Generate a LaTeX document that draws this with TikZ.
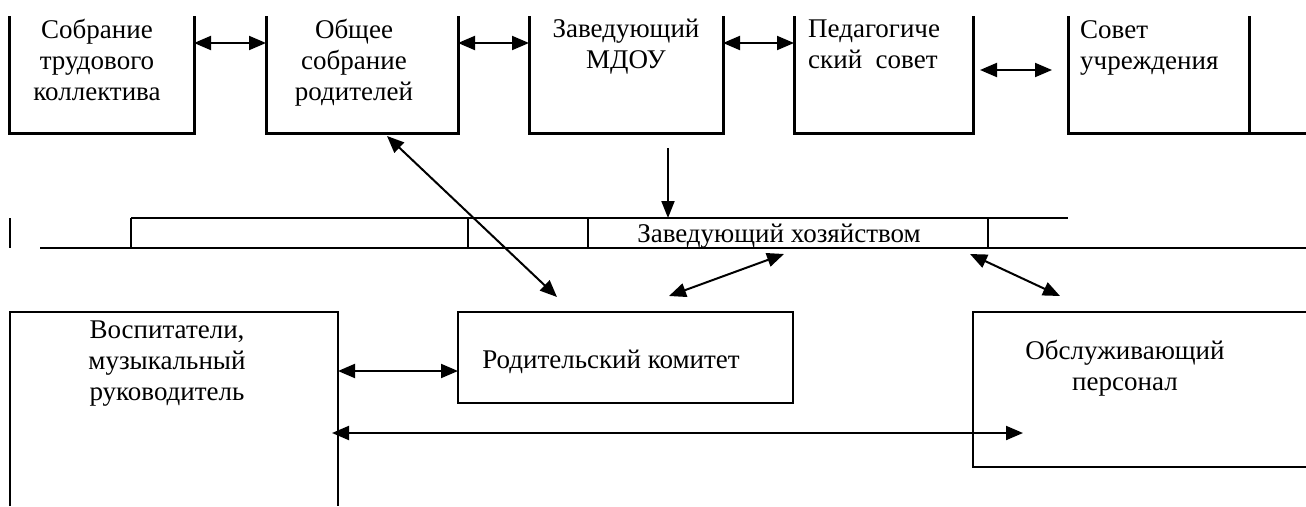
\documentclass[tikz,border=0pt]{standalone}
\usepackage{fontspec}
\setmainfont{Liberation Serif}
\usetikzlibrary{arrows.meta, positioning}

\tikzset{
  box/.style={inner sep=0pt, outer sep=0pt, minimum height=117pt},
  cell/.style={inner sep=0pt, outer sep=0pt, minimum height=30pt},
  txt/.style={inner sep=0pt, font=\fontsize{27}{31}\selectfont},
  boxline/.style={line width=3pt},
  bandline/.style={line width=2.4pt},
  lowline/.style={line width=2.2pt},
  link/.style={line width=2pt, {Triangle[length=17pt,width=14pt]}-{Triangle[length=17pt,width=14pt]}},
  downarr/.style={line width=2pt, -{Triangle[length=17pt,width=13pt]}},
}

\begin{document}
\begin{tikzpicture}[x=1pt,y=-1pt]
    \useasboundingbox (0,0) rectangle (1306,506);

    % Top row
    \node[box, minimum width=185pt] (sobr) at (101.5,74.5) {};
    \node[box, minimum width=192pt] (obsh) at (362,74.5) {};
    \node[box, minimum width=194pt] (zav) at (626,74.5) {};
    \node[box, minimum width=179pt] (ped) at (883.5,74.5) {};
    \node[box, minimum width=181pt] (sov) at (1158.5,74.5) {};
    \foreach \b in {sobr,obsh,zav,ped,sov}
        \draw[boxline] (\b.north west) |- (\b.south east) -- (\b.north east);
    \draw[boxline] (sov.south east) -- (1306,133);

    \node[txt, align=center, anchor=north] (sobrt) at (97,19) {Собрание\\трудового\\коллектива};
    \node[txt, align=center, anchor=north] (obsht) at (354,19) {Общее\\собрание\\родителей};
    \node[txt, align=center, anchor=north] (zavt) at (626,19) {Заведующий\\МДОУ};
    \node[txt, align=left, anchor=north west] (pedt) at (808,20) {Педагогиче\\ский\ \ совет};
    \node[txt, align=left, anchor=north west] (sovt) at (1080,20) {Совет\\учреждения};

    \draw[link] ([yshift=31.5pt]sobr.east) -- ([yshift=31.5pt]obsh.west);
    \draw[link] ([yshift=31.5pt]obsh.east) -- ([yshift=31.5pt]zav.west);
    \draw[link] ([yshift=31.5pt]zav.east) -- ([yshift=31.5pt]ped.west);
    \draw[link] ([shift={(7pt,4.5pt)}]ped.east) -- ([shift={(-16pt,4.5pt)}]sov.west);

    % Middle band
    \node[cell, minimum width=337pt] (cA) at (299.5,233) {};
    \node[cell, minimum width=120pt, right=0pt of cA] (cB) {};
    \node[cell, minimum width=400pt, right=0pt of cB] (hoz) {};
    \node[cell, minimum width=80pt, right=0pt of hoz] (cD) {};
    \draw[bandline] (cA.north west) -- (cD.north east);
    \draw[bandline] (40,248) -- (1306,248);
    \foreach \c in {cA,cB,hoz,cD}
        \draw[bandline] (\c.north west) -- (\c.south west);
    \draw[bandline] (10,218) -- (10,248);
    \node[txt] (hozt) at ([shift={(-9pt,-3pt)}]hoz.center) {Заведующий хозяйством};

    \coordinate (dtop) at (668,148);
    \draw[downarr] (dtop) -- (dtop |- hoz.north);

    % Bottom row
    \node[box, minimum width=328pt, minimum height=194pt] (vosp) at (174,409) {};
    \node[box, minimum width=335pt, minimum height=91pt] (rod) at (625.5,357.5) {};
    \node[box, minimum width=333pt, minimum height=155pt] (obsl) at (1139.5,389.5) {};
    \draw[lowline] (vosp.south west) |- (vosp.north east) -- (vosp.south east);
    \draw[lowline] (rod.south west) rectangle (rod.north east);
    \draw[lowline] (obsl.north east) -| (obsl.south west) -- (obsl.south east);

    \node[txt, align=center, anchor=north] (vospt) at (167,321) {Воспитатели,\\музыкальный\\руководитель};
    \node[txt] (rodt) at (611,362) {Родительский комитет};
    \node[txt, align=center, anchor=north] (obslt) at (1125,340) {Обслуживающий\\персонал};

    % Links
    \draw[link] ([shift={(25pt,-3pt)}]obsh.south) -- ([shift={(-68.5pt,15pt)}]rod.north);
    \draw[link] ([shift={(43.5pt,16pt)}]rod.north) -- ([shift={(-4pt,-6pt)}]hoz.south);
    \draw[link] ([shift={(-18pt,-6pt)}]hoz.south east) -- ([shift={(87pt,16pt)}]obsl.north west);
    \draw[link] ([yshift=38pt]vosp.east) -- ([yshift=-13.5pt]rod.west);
    \draw[link] ([shift={(-6pt,-24pt)}]vosp.east) -- ([shift={(50pt,-43.5pt)}]obsl.west);
\end{tikzpicture}
\end{document}
